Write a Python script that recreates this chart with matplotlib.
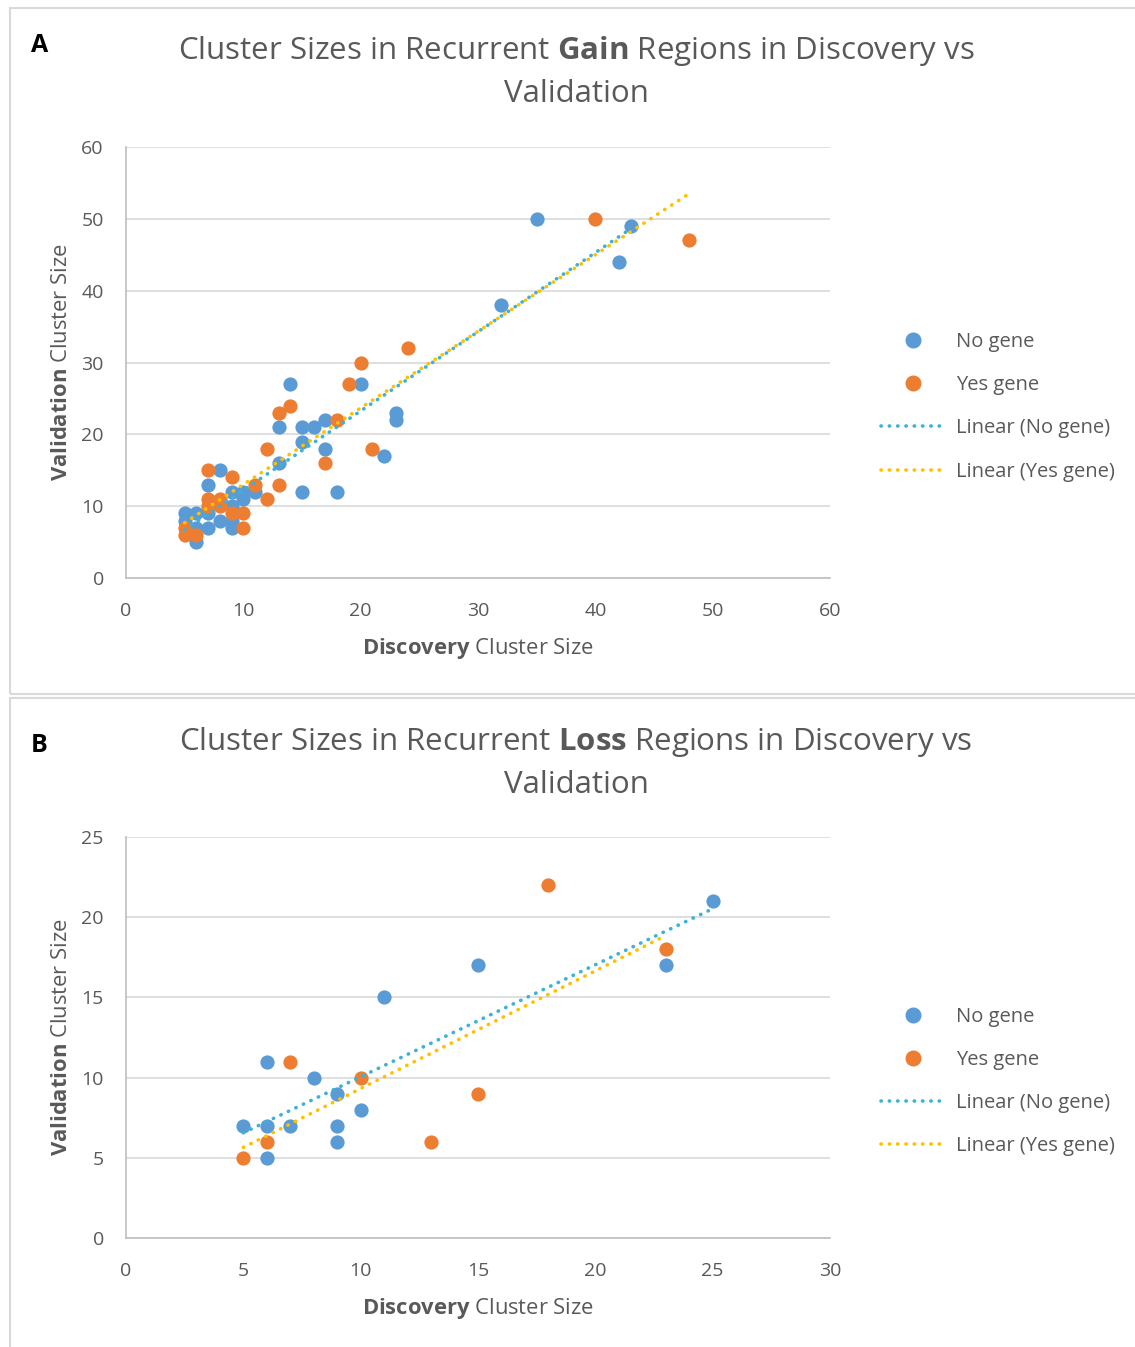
import numpy as np
import matplotlib
matplotlib.use('Agg')
import matplotlib.pyplot as plt
from matplotlib.lines import Line2D
from matplotlib.patches import Rectangle

plt.rcParams['font.family'] = ['Open Sans', 'DejaVu Sans']
plt.rcParams['mathtext.fontset'] = 'custom'
plt.rcParams['mathtext.rm'] = 'Open Sans'
plt.rcParams['mathtext.bf'] = 'Open Sans:bold'

# Panel A: recurrent gain regions (discovery x, validation y)
gain_no_x = [35, 43, 42, 32, 14, 20, 23, 23, 13, 15, 16, 17, 15, 17, 22, 13, 8, 7,
             9, 10, 11, 15, 18, 10, 9, 5, 6, 7, 8, 5, 9, 6, 7, 9, 6]
gain_no_y = [50, 49, 44, 38, 27, 27, 23, 22, 21, 21, 21, 22, 19, 18, 17, 16, 15, 13,
             12, 12, 12, 12, 12, 11, 10, 9, 9, 9, 8, 8, 8, 7, 7, 7, 5]
gain_yes_x = [40, 48, 24, 20, 19, 14, 13, 18, 12, 21, 17, 7, 9, 11, 13, 12, 7, 8,
              7, 8, 9, 10, 10, 5, 5, 6]
gain_yes_y = [50, 47, 32, 30, 27, 24, 23, 22, 18, 18, 16, 15, 14, 13, 13, 11, 11, 11,
              10, 10, 9, 9, 7, 7, 6, 6]

# Panel B: recurrent loss regions
loss_no_x = [25, 23, 15, 11, 6, 8, 9, 10, 5, 6, 7, 9, 9, 6]
loss_no_y = [21, 17, 17, 15, 11, 10, 9, 8, 7, 7, 7, 7, 6, 5]
loss_yes_x = [18, 23, 7, 10, 15, 6, 13, 5]
loss_yes_y = [22, 18, 11, 10, 9, 6, 6, 5]

BLUE = '#5B9BD5'
ORANGE = '#ED7D31'
TREND_BLUE = '#3DB2D6'
TREND_YELLOW = '#FFC000'
GRAY_TXT = '#595959'
GRID = '#D9D9D9'
DOTS = (0, (0.1, 2.2))

fig = plt.figure(figsize=(11.35, 13.47), dpi=100)

# panel frames
fig.patches.append(Rectangle((10 / 1135, 1 - 694 / 1347), 1.0, 686 / 1347,
                             transform=fig.transFigure, fill=False,
                             edgecolor='#D9D9D9', lw=1.5))
fig.patches.append(Rectangle((10 / 1135, -0.01), 1.0, (1347 - 698) / 1347 + 0.01,
                             transform=fig.transFigure, fill=False,
                             edgecolor='#D9D9D9', lw=1.5))


def trend(ax, x, y, color):
    x = np.asarray(x, float)
    y = np.asarray(y, float)
    k, b = np.polyfit(x, y, 1)
    xs = np.array([x.min(), x.max()])
    ax.plot(xs, k * xs + b, color=color, lw=2.6, linestyle=DOTS,
            dash_capstyle='round', zorder=4)


def panel(rect, nx, ny, yx, yy, xlim, ylim, step, word, letter, title_y, letter_y, leg_y):
    ax = fig.add_axes(rect)
    ax.scatter(nx, ny, s=105, color=BLUE, zorder=3, linewidths=0)
    ax.scatter(yx, yy, s=105, color=ORANGE, zorder=3, linewidths=0)
    trend(ax, nx, ny, TREND_BLUE)
    trend(ax, yx, yy, TREND_YELLOW)
    ax.set_xlim(0, xlim)
    ax.set_ylim(0, ylim)
    ax.set_xticks(np.arange(0, xlim + 1, step))
    ax.set_yticks(np.arange(0, ylim + 1, step))
    ax.grid(axis='y', color=GRID, lw=1.2)
    ax.set_axisbelow(True)
    for s in ['top', 'right']:
        ax.spines[s].set_visible(False)
    for s in ['left', 'bottom']:
        ax.spines[s].set_color('#BFBFBF')
        ax.spines[s].set_linewidth(1.2)
    ax.tick_params(length=0, labelsize=14, colors=GRAY_TXT)
    ax.tick_params(axis='x', pad=17)
    ax.tick_params(axis='y', pad=16)
    ax.set_xlabel(r'$\mathbf{Discovery}$ Cluster Size', fontsize=15.8,
                  color=GRAY_TXT, labelpad=12)
    ax.set_ylabel(r'$\mathbf{Validation}$ Cluster Size', fontsize=15.8,
                  color=GRAY_TXT, labelpad=7)
    fig.text(576 / 1135, title_y,
             'Cluster Sizes in Recurrent $\\mathbf{' + word + '}$ Regions in Discovery vs\nValidation',
             ha='center', va='center', fontsize=22.5, color=GRAY_TXT,
             linespacing=1.5)
    fig.text(31 / 1135, letter_y, letter, fontsize=18, fontweight='bold',
             color='black', ha='left', va='center')
    handles = [
        Line2D([], [], marker='o', ls='none', color=BLUE, markersize=10.5),
        Line2D([], [], marker='o', ls='none', color=ORANGE, markersize=10.5),
        Line2D([], [], color=TREND_BLUE, lw=2.6, ls=DOTS, dash_capstyle='round'),
        Line2D([], [], color=TREND_YELLOW, lw=2.6, ls=DOTS, dash_capstyle='round'),
    ]
    leg = ax.legend(handles, ['No gene', 'Yes gene', 'Linear (No gene)', 'Linear (Yes gene)'],
                    loc='center left', bbox_to_anchor=(1.072, leg_y), frameon=False,
                    fontsize=14.5, labelspacing=1.15, handlelength=3.2,
                    handletextpad=0.55, borderpad=0, borderaxespad=0)
    for t in leg.get_texts():
        t.set_color(GRAY_TXT)
    return ax


panel([126 / 1135, 1 - 578 / 1347, 704 / 1135, 431 / 1347],
      gain_no_x, gain_no_y, gain_yes_x, gain_yes_y, 60, 60, 10, 'Gain', 'A',
      1 - 71.5 / 1347, 1 - 45 / 1347, 0.397)
panel([126 / 1135, 1 - 1238 / 1347, 704 / 1135, 401 / 1347],
      loss_no_x, loss_no_y, loss_yes_x, loss_yes_y, 30, 25, 5, 'Loss', 'B',
      1 - 762.5 / 1347, 1 - 745 / 1347, 0.39)

fig.savefig('out.png', dpi=100)
